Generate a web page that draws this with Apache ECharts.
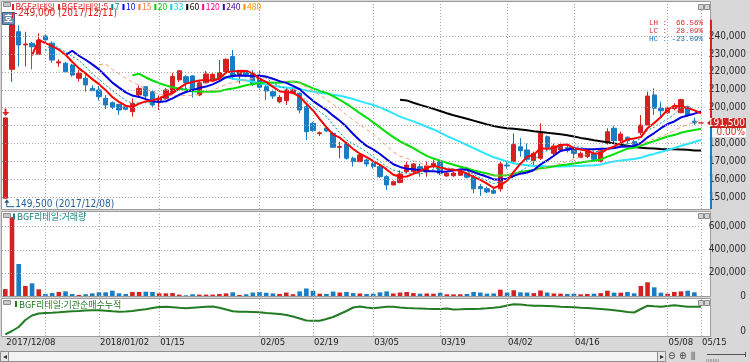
<!DOCTYPE html>
<html><head><meta charset="utf-8">
<script src="https://cdn.jsdelivr.net/npm/echarts@6/dist/echarts.min.js"></script>
<style>html,body{margin:0;padding:0;background:#d8d8d8;}#c{width:750px;height:362px;}</style>
</head><body><div id="c"></div>
<script>
// ---------------- DATA ----------------
const dates = [
'2017/12/08','2017/12/11','2017/12/12','2017/12/13','2017/12/14','2017/12/15','2017/12/18','2017/12/19','2017/12/20','2017/12/21','2017/12/22','2017/12/26','2017/12/27','2017/12/28',
'2018/01/02','2018/01/03','2018/01/04','2018/01/05','2018/01/08','2018/01/09','2018/01/10','2018/01/11','2018/01/12','2018/01/15','2018/01/16','2018/01/17','2018/01/18','2018/01/19','2018/01/22','2018/01/23','2018/01/24','2018/01/25','2018/01/26','2018/01/29','2018/01/30','2018/01/31',
'2018/02/01','2018/02/02','2018/02/05','2018/02/06','2018/02/07','2018/02/08','2018/02/09','2018/02/12','2018/02/13','2018/02/14','2018/02/19','2018/02/20','2018/02/21','2018/02/22','2018/02/23','2018/02/26','2018/02/27','2018/02/28',
'2018/03/02','2018/03/05','2018/03/06','2018/03/07','2018/03/08','2018/03/09','2018/03/12','2018/03/13','2018/03/14','2018/03/15','2018/03/16','2018/03/19','2018/03/20','2018/03/21','2018/03/22','2018/03/23','2018/03/26','2018/03/27','2018/03/28','2018/03/29','2018/03/30',
'2018/04/02','2018/04/03','2018/04/04','2018/04/05','2018/04/06','2018/04/09','2018/04/10','2018/04/11','2018/04/12','2018/04/13','2018/04/16','2018/04/17','2018/04/18','2018/04/19','2018/04/20','2018/04/23','2018/04/24','2018/04/25','2018/04/26','2018/04/27','2018/04/30',
'2018/05/02','2018/05/03','2018/05/04','2018/05/08','2018/05/09','2018/05/10','2018/05/11','2018/05/14','2018/05/15'];

const openP = [149500,221400,242400,235000,235900,229800,240000,236000,225000,224800,223800,216400,216400,210800,
209900,205200,202800,201900,200500,197800,207100,211700,208900,203900,205200,208400,215500,217300,217700,207100,213900,215000,216400,220100,228500,218000,
220500,218800,216400,211700,208900,203300,203900,208400,208000,200500,191300,185500,188600,185700,177800,180100,171800,169900,
170800,169000,167100,161500,156900,158200,164300,164300,167100,164300,167100,169900,161900,162000,162300,163400,161200,156000,154800,153900,154700,
168000,169900,178200,176400,170400,171800,183800,174500,176400,177500,176800,172300,172700,174500,169900,180100,188500,181600,183500,181000,186100,
190300,207100,199700,197200,199500,197200,200500,192500,191500];
const closeP = [194300,247000,235000,235500,234000,237800,237800,226600,225600,220000,218200,219200,212700,209500,
206100,201500,200200,198700,199100,202400,210800,206500,201500,205200,209900,217400,220600,214000,209900,213900,218800,218600,219600,227000,217300,220400,
218000,213000,211400,209300,206500,205800,209900,209900,198700,186600,187200,186000,187000,177900,178300,171800,169900,173600,
168600,167100,161500,156900,158700,163000,168000,168600,165000,167500,169000,163400,163400,163500,164400,161200,154700,154800,153000,152300,168600,
167500,179400,176000,171200,174500,185700,177900,178600,179400,176000,174500,174500,176000,171200,176400,186600,181600,185300,181600,179200,190300,
206500,199700,198300,199700,201000,204500,195900,191500,191500];
const lowP = [149500,214500,223000,223000,221400,229500,236000,225000,222800,219500,217300,214500,208900,209500,
204000,199300,199300,196000,198500,195000,206000,205000,200500,198700,204500,207500,214300,210000,205700,206400,213500,214500,215500,219000,215500,213500,
217000,212000,209900,204300,205000,202500,201500,207500,196900,182000,186500,184200,186500,177500,171800,171000,167100,169500,
167100,166000,160800,154000,156500,157800,163400,163000,161500,161500,166200,162400,161500,161500,161900,160500,152200,150800,152300,151800,153100,
166000,169000,172700,169900,167500,170800,176000,173500,175500,175000,171800,171800,171800,170500,169500,179400,180000,180500,180000,178500,184700,
190000,195900,195000,196500,198500,196900,195000,190300,191500];
const highP = [194500,249000,245800,242400,236800,241500,240500,237000,227000,225500,224500,221000,218200,212500,
212000,207000,203500,202000,201000,205200,212500,212000,210000,206900,211000,219500,221000,218200,218200,215000,220500,219200,226600,227500,232200,221000,
221000,221000,221000,212700,210000,207000,210800,211000,208600,202000,192000,186800,189000,186600,181000,181000,172700,174800,
171600,169900,168600,162400,159300,165000,169900,169000,168600,169900,170800,170800,164000,164300,165000,164000,162400,157500,156000,156000,169900,
170000,185700,183000,180000,175500,191300,184500,180000,180500,179000,178200,175500,176500,175500,177500,188500,190000,186600,184000,182000,195900,
208900,210800,203400,201000,202500,205000,201000,194600,191500];
const volume = [60000,682000,277000,87000,110000,58000,17000,26000,35000,40000,17000,9000,15000,23000,
32000,32000,46000,23000,17000,35000,35000,37000,35000,23000,23000,26000,12000,6000,15000,12000,12000,12000,17000,23000,32000,9000,
15000,30000,35000,28000,22000,18000,30000,15000,40000,65000,45000,20000,18000,38000,30000,35000,25000,22000,
18000,20000,32000,40000,22000,30000,35000,25000,20000,22000,20000,28000,15000,14000,15000,18000,35000,30000,20000,22000,55000,
30000,50000,32000,30000,25000,48000,30000,22000,20000,18000,20000,15000,18000,20000,25000,46000,29000,29000,35000,23000,87000,
119000,75000,29000,20000,35000,40000,46000,32000,0];
const instCum = [-33000,0,40000,110000,155000,175000,180000,182000,187000,193000,197000,200000,205000,208000,
207000,202000,197000,193000,195000,200000,210000,217000,230000,240000,243000,238000,232000,227000,232000,237000,242000,245000,232000,215000,198000,193000,
192000,190000,187000,180000,175000,170000,160000,145000,125000,105000,103000,103000,120000,140000,170000,200000,235000,245000,
235000,227000,235000,242000,242000,235000,230000,227000,225000,222000,220000,220000,225000,215000,217000,220000,220000,223000,227000,232000,240000,
255000,267000,265000,257000,253000,253000,250000,247000,243000,240000,237000,233000,230000,225000,220000,215000,208000,200000,190000,185000,220000,
253000,247000,243000,250000,257000,250000,243000,243000,243000];

const maPeriods = [60,33,20,15,7,10,5];
const priceTicks = [150000,160000,170000,180000,190000,200000,210000,220000,230000,240000];
const volTicks = [0,200000,400000,600000];
const instTicks = [0];
const tickDates  = ['2017/12/08','2018/01/02','2018/01/15','2018/02/05','2018/02/19','2018/03/05','2018/03/19','2018/04/02','2018/04/16','2018/05/08','2018/05/15'];
const tickLabels = ['2017/12/08','2018/01/02','01/15','02/05','02/19','03/05','03/19','04/02','04/16','05/08','05/15'];
const gridDates  = ['2017/12/18','2018/01/02','2018/01/15','2018/02/05','2018/02/19','2018/03/05','2018/03/19','2018/04/02','2018/04/16','2018/05/08','2018/05/15'];
const legendNames = ['BGF리테일','BGF리테일:5','7','10','15','20','33','60','120','240','480'];
const volTitle = 'BGF리테일:거래량';
const instTitle = 'BGF리테일:기관순매수누적';
const changeText = '0.00%';

// ---------------- STYLE ----------------
const UP = '#d42222', DOWN = '#1a7cc2';
const NARROW = "'Liberation Sans Narrow','DejaVu Sans Condensed','Liberation Sans',sans-serif";
const CJK = "'Noto Sans CJK KR','Noto Sans',sans-serif";
const legendColors = ['#e02020','#e02020','#008c8c','#0000ff','#ff7a40','#00d000','#00d8e8','#000000','#ff0090','#4a0090','#ff9000'];
const maStyle = {
  5:{color:'#ff0000',width:2,type:'solid'},
  7:{color:'#009a9a',width:1,type:[2,2]},
  10:{color:'#0000e0',width:2,type:'solid'},
  15:{color:'#f5a27a',width:1,type:[4,3]},
  20:{color:'#00e000',width:2,type:'solid'},
  33:{color:'#2ee6ff',width:2,type:'solid'},
  60:{color:'#000000',width:2,type:'solid'}
};
const GL = 1.96, GR = 45.6;
const PRICE_MIN = 143470, PRICE_MAX = 258410;
const VOL_MAX = 736000, INST_MIN = -50000, INST_MAX = 320000;

function ma(p){
  return closeP.map((c,i)=>{
    if(i < p-1) return '-';
    let s=0; for(let k=i-p+1;k<=i;k++) s+=closeP[k];
    return Math.round(s/p);
  });
}
const fmt = v => String(v).replace(/\B(?=(\d{3})+(?!\d))/g, ',');
const labelMap = {}; tickDates.forEach((d,i)=>labelMap[d]=tickLabels[i]);

const dotted = {color:'#a9a9a9', width:1, type:[1,2]};
function gridMark(yVals){
  return {silent:true, symbol:['none','none'], label:{show:false}, lineStyle:dotted, animation:false,
    emphasis:{disabled:true},
    data: gridDates.map(d=>({xAxis:d})).concat(yVals.map(v=>({yAxis:v})))};
}

const chart = echarts.init(document.getElementById('c'), null, {width:750, height:362});
const series = [];
series.push({type:'line', xAxisIndex:0, yAxisIndex:0, data:[], z:1, silent:true, markLine:gridMark(priceTicks)});
series.push({type:'line', xAxisIndex:1, yAxisIndex:1, data:[], z:1, silent:true, markLine:gridMark(volTicks.slice(1))});
series.push({type:'line', xAxisIndex:2, yAxisIndex:2, data:[], z:1, silent:true, markLine:gridMark([])});
series.push({type:'candlestick', xAxisIndex:0, yAxisIndex:0, barWidth:4.8, z:2, silent:true,
  data: dates.map((d,i)=>[openP[i], closeP[i], lowP[i], highP[i]]),
  itemStyle:{color:UP, color0:DOWN, borderColor:UP, borderColor0:DOWN, borderColorDoji:UP, borderWidth:1}});
maPeriods.forEach(p=>{
  series.push({type:'line', xAxisIndex:0, yAxisIndex:0, data:ma(p), showSymbol:false, symbol:'none', z:3, silent:true,
    lineStyle:{color:maStyle[p].color, width:maStyle[p].width, type:maStyle[p].type}});
});
series.push({type:'bar', xAxisIndex:1, yAxisIndex:1, barWidth:4.6, z:2, silent:true,
  data: volume.map((v,i)=>({value:v, itemStyle:{color: closeP[i]>=openP[i]?UP:DOWN}}))});
series.push({type:'line', xAxisIndex:2, yAxisIndex:2, data:instCum, showSymbol:false, symbol:'none', z:3, silent:true,
  lineStyle:{color:'#237c23', width:2}});

function xAx(gi, showLabel){
  return {type:'category', gridIndex:gi, data:dates, boundaryGap:true,
    axisLine:{show:false}, axisTick:{show:false}, splitLine:{show:false},
    axisLabel: showLabel ? {show:true, interval:(idx,val)=>!!labelMap[val], formatter:v=>labelMap[v]||'',
      align:'left', margin:2, color:'#222', fontSize:9.5, fontFamily:NARROW, padding:[0,0,0,1]} : {show:false}};
}
function yAx(gi, min, max, ticks){
  return {type:'value', gridIndex:gi, position:'right', min, max, scale:true,
    axisLine:{show:false}, axisTick:{show:false}, splitLine:{show:false},
    axisLabel:{show:true, customValues:ticks, formatter:v=>fmt(v), align:'right', margin:41.6,
      color:'#2a2a2a', fontSize:10, fontFamily:NARROW}};
}
const option = {
  animation:false,
  backgroundColor:'#d8d8d8',
  grid:[
    {left:GL, right:GR, top:3, height:206, outerBoundsMode:'none', containLabel:false},
    {left:GL, right:GR, top:211, height:85, outerBoundsMode:'none', containLabel:false},
    {left:GL, right:GR, top:299, height:37, outerBoundsMode:'none', containLabel:false}
  ],
  xAxis:[xAx(0,false), xAx(1,false), xAx(2,true)],
  yAxis:[yAx(0,PRICE_MIN,PRICE_MAX,priceTicks), yAx(1,0,VOL_MAX,volTicks), yAx(2,INST_MIN,INST_MAX,instTicks)],
  series
};
chart.setOption(option);

// ---------------- OVERLAYS ----------------
const P = (gi,i,v)=>chart.convertToPixel({gridIndex:gi},[i,v]);
const G = [];
const rect=(x,y,w,h,fill,stroke,z)=>({type:'rect', silent:true, z:(z==null?0:z), shape:{x,y,width:w,height:h},
  style:{fill, stroke:stroke||'none', lineWidth:stroke?1:0}});
const text=(x,y,t,color,font,align,z)=>({type:'text', silent:true, z:(z==null?60:z), x, y,
  style:{text:t, fill:color, font, align:align||'left', verticalAlign:'middle'}});
const line=(pts,color,w,z)=>({type:'polyline', silent:true, z:(z==null?60:z), shape:{points:pts}, style:{stroke:color, lineWidth:w||1, fill:'none'}});

// panel backgrounds
G.push(rect(1.5,1.5,709,208,'#ffffff','#9c9c9c',0));
G.push(rect(1.5,211.5,709,85,'#ffffff','#9c9c9c',0));
G.push(rect(1.5,298.5,709,38,'#ffffff','#9c9c9c',0));
// panel icons
[[3,1.5],[3,212.5],[3,299.5]].forEach(([x,y])=>G.push(rect(x+0.5,y+1,7,4,'#c8c8c8','#8c8c8c',50)));
[4,213,300].forEach(y=>{G.push(rect(698.5,y+0.5,5,5,'#d4d4d4','#8a8a8a',50)); G.push(rect(704.5,y+0.5,5,5,'#d4d4d4','#8a8a8a',50));});
// '호' box
G.push(rect(2.5,12.5,12,12,'#7391b4','#3b5d88',50));
G.push(text(8.5,18.7,'호','#ffffff','bold 9px '+CJK,'center',51));

// top legend (rich text)
const rich = {};
let legStr = '';
legendNames.forEach((n,i)=>{
  rich['m'+i] = {width:2, height:6, backgroundColor:legendColors[i]};
  rich['t'+i] = {fill:legendColors[i], font:'8.5px '+CJK, padding:[0,0,0,1.5]};
  legStr += '{m'+i+'| }{t'+i+'|'+n+'}' + (i<legendNames.length-1?'{s| }':'');
});
rich.s = {width:3};
G.push({type:'text', silent:true, z:60, x:12, y:7, style:{text:legStr, rich, verticalAlign:'middle', font:'8.5px '+CJK}});

// high / low annotations
const hi = Math.max(...highP), hiIdx = highP.indexOf(hi);
const lo = Math.min(...lowP), loIdx = lowP.indexOf(lo);
const cur = closeP[closeP.length-1];
const hp = P(0,hiIdx,hi), lp = P(0,loIdx,lo), cp = P(0,dates.length-1,cur);
G.push(line([[hp[0]+0.5,hp[1]-1],[hp[0]+0.5,13.5],[hp[0]+5,13.5]],'#e02020',1,58));
G.push(text(hp[0]+6,13.5,fmt(hi)+' ('+dates[hiIdx]+')','#e02020','10px '+NARROW,'left',58));
G.push(line([[lp[0]+1.5,lp[1]+3],[lp[0]+1.5,lp[1]+8.5],[lp[0]+9,lp[1]+8.5]],'#1f5c99',1,58));
G.push({type:'polygon', silent:true, z:58, shape:{points:[[lp[0]+1.5,lp[1]+1],[lp[0]-1,lp[1]+4.5],[lp[0]+4,lp[1]+4.5]]}, style:{fill:'#1f5c99'}});
G.push(text(lp[0]+10,lp[1]+6.5,fmt(lo)+' ('+dates[loIdx]+')','#1f5c99','10px '+NARROW,'left',58));
// red arrow above first candle
const fp = P(0,0,highP[0]);
G.push(rect(fp[0]-0.8,fp[1]-9,2,4,'#e02020',null,58));
G.push({type:'polygon', silent:true, z:58, shape:{points:[[fp[0]-3,fp[1]-5.5],[fp[0]+4,fp[1]-5.5],[fp[0]+0.2,fp[1]-1.5]]}, style:{fill:'#e02020'}});

// LH / LC / HC
const pct = v => (v*100).toFixed(2)+'%';
const LH = pct((hi-lo)/lo), LC = pct((cur-lo)/lo), HC = pct((cur-hi)/hi);
const MONO = "'Liberation Mono','DejaVu Sans Mono',monospace";
G.push(text(703,23,'LH : '+LH.padStart(7,' '),'#d42828','7.5px '+MONO,'right'));
G.push(text(703,31,'LC : '+LC.padStart(7,' '),'#d42828','7.5px '+MONO,'right'));
G.push(text(703,39,'HC : '+HC.padStart(7,' '),'#1f6fb8','7.5px '+MONO,'right'));

// right axis range bar + current price
G.push(line([[711,hp[1]],[711,cp[1]-5]],'#d42222',2,40));
G.push(line([[711,cp[1]+5],[711,209]],'#1a7cc2',2,40));
G.push({type:'polygon', silent:true, z:62, shape:{points:[[707,cp[1]],[712,cp[1]-4.5],[712,cp[1]+4.5]]}, style:{fill:'#d42222'}});
G.push(rect(712,cp[1]-5,34,10,'#d42222',null,62));
G.push(text(745,cp[1]+0.3,fmt(cur),'#ffffff','10px '+NARROW,'right',63));
G.push(rect(712,cp[1]+5,34,9,'#ffffff',null,62));
G.push(text(745,cp[1]+9.8,changeText,'#d42222','10px '+NARROW,'right',63));

// sub-panel titles
G.push(rect(13,213.5,2,6,'#148080',null,60));
G.push(text(17,216.8,volTitle,'#148080','9px '+CJK,'left'));
G.push(rect(15,301,2,6,'#1e7a1e',null,60));
G.push(text(19,304.3,instTitle,'#1e7a1e','9px '+CJK,'left'));

// bottom scroll bar
G.push(rect(0.5,351.5,657,10,'#f3f3f3','#8e8e8e',10));
G.push(rect(0.5,351.5,8,10,'#e6e6e6','#8e8e8e',11));
G.push(text(4.5,356.8,'◂','#333','8px sans-serif','center',12));
G.push(rect(657.5,351.5,8,10,'#e6e6e6','#8e8e8e',11));
G.push(text(661.5,356.8,'▸','#333','8px sans-serif','center',12));
G.push(text(668,356.8,'⊖','#444','10px '+NARROW,'left',12));
G.push(text(679,356.8,'⊕','#444','10px '+NARROW,'left',12));
G.push(text(691,356.5,'⫼','#444','9px sans-serif','left',12));
G.push(line([[707,354.5],[745,354.5]],'#555',1,12));
G.push(line([[745.5,352],[745.5,357]],'#555',1,12));
G.push(text(706,360,'ıııııııı','#777','6px sans-serif','left',12));

chart.setOption({graphic:G});
</script></body></html>
